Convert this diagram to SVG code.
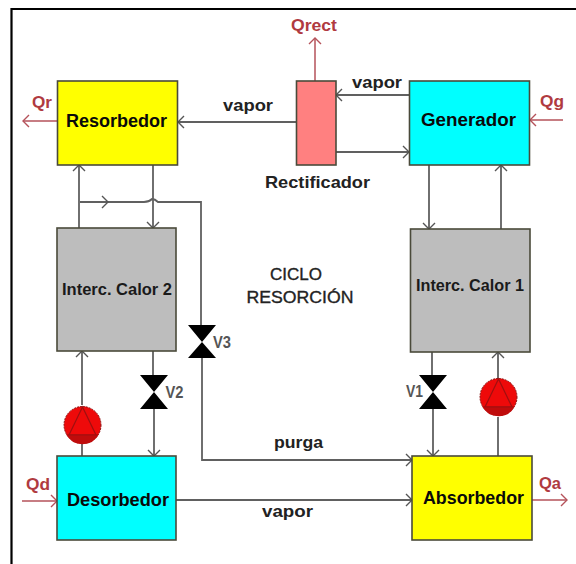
<svg xmlns="http://www.w3.org/2000/svg" width="576" height="564" viewBox="0 0 576 564">
<defs>
<marker id="a" markerUnits="userSpaceOnUse" markerWidth="12" markerHeight="14" refX="10" refY="7" orient="auto"><path d="M4 1L10 7L4 13" fill="none" stroke="#555" stroke-width="1.4"/></marker>
<marker id="r" markerUnits="userSpaceOnUse" markerWidth="12" markerHeight="14" refX="10" refY="7" orient="auto"><path d="M4 1L10 7L4 13" fill="none" stroke="#b5525a" stroke-width="1.4"/></marker>
</defs>
<style>
text{font-family:"Liberation Sans",Arial,sans-serif;font-weight:700;text-anchor:middle}
.box{stroke:#4a4a3a;stroke-width:1.6}
.c{fill:none;stroke:#606060;stroke-width:1.8;marker-end:url(#a)}
.n{fill:none;stroke:#606060;stroke-width:1.8}
.h{fill:none;stroke:#b5525a;stroke-width:1.5;marker-end:url(#r)}
.q{fill:#b03a40;font-size:17px}
.l{fill:#222;font-size:16.500px}
.m{fill:#222;font-size:17px;font-weight:400;stroke:#222;stroke-width:.35px}
.t{fill:#0a0a0a;font-size:18px}
.i{fill:#1a1a1a;font-size:16.500px}
.v{fill:#555;font-size:17px}
.valve{fill:#000}
.pump{fill:#ee0a0a;stroke:#8a1010;stroke-width:1;stroke-dasharray:2 1}
.tri{fill:none;stroke:#a01010;stroke-width:1.2}
.band{fill:#c00c0c}
</style>
<path d="M11.500 564V9H576" fill="none" stroke="#000" stroke-width="2.200"/>
<g id="connectors">
<path class="c" d="M296 122H178"/>
<path class="c" d="M409 95H336"/>
<path class="c" d="M336 152H409"/>
<path class="c" d="M429 165V229"/>
<path class="c" d="M501 229V165"/>
<path class="c" d="M79 228V165"/>
<path class="c" d="M153 165V228"/>
<path class="n" d="M80 202H144Q149 202 152 199Q155 199 158 202Q161 202 165 202H201V325"/>
<path class="c" d="M80 202H108"/>
<path class="n" d="M202 358V460H300"/>
<path class="c" d="M300 460H412"/>
<path class="c" d="M176 500H412"/>
<path class="c" d="M82 405V351"/>
<path class="n" d="M82 456V444"/>
<path class="n" d="M153 351V375"/>
<path class="c" d="M154 408V456"/>
<path class="n" d="M432 352V376"/>
<path class="c" d="M433 408V456"/>
<path class="c" d="M498 385V352"/>
<path class="n" d="M498 456V417"/>
<path class="h" d="M57 121H23"/>
<path class="h" d="M563 120H530"/>
<path class="h" d="M315 81V38"/>
<path class="h" d="M22 501H57"/>
<path class="h" d="M532 500H567"/>
</g>
<g id="resorbedor"><rect class="box" x="57.500" y="81" width="120" height="84" fill="#ffff00"/><text class="t" x="116.500" y="127" textLength="101" lengthAdjust="spacingAndGlyphs">Resorbedor</text></g>
<g id="generador"><rect class="box" x="409.500" y="81" width="120" height="84" fill="#00ffff"/><text class="t" x="468.500" y="126" textLength="95" lengthAdjust="spacingAndGlyphs">Generador</text></g>
<g id="rectificador"><rect class="box" x="296.500" y="81" width="39.500" height="84" fill="#ff8080"/><text class="l" x="317.500" y="188" textLength="105" lengthAdjust="spacingAndGlyphs">Rectificador</text></g>
<g id="interc2"><rect class="box" x="57" y="228" width="119" height="123" fill="#bdbdbd"/><text class="i" x="117" y="295" textLength="110" lengthAdjust="spacingAndGlyphs">Interc. Calor 2</text></g>
<g id="interc1"><rect class="box" x="410.500" y="229" width="119.500" height="123" fill="#bdbdbd"/><text class="i" x="470" y="291" textLength="108" lengthAdjust="spacingAndGlyphs">Interc. Calor 1</text></g>
<g id="desorbedor"><rect class="box" x="57" y="456" width="119" height="84" fill="#00ffff"/><text class="t" x="118" y="506" textLength="102" lengthAdjust="spacingAndGlyphs">Desorbedor</text></g>
<g id="absorbedor"><rect class="box" x="412" y="456" width="120" height="84" fill="#ffff00"/><text class="t" x="473.500" y="504" textLength="101" lengthAdjust="spacingAndGlyphs">Absorbedor</text></g>
<g id="valve-v3"><path class="valve" d="M188 325H216L202 342L216 358H188L202 342Z"/><text class="v" x="222" y="348" textLength="18" lengthAdjust="spacingAndGlyphs">V3</text></g>
<g id="valve-v2"><path class="valve" d="M140 375H168L154 392L168 409H140L154 392Z"/><text class="v" x="174.500" y="398" textLength="18" lengthAdjust="spacingAndGlyphs">V2</text></g>
<g id="valve-v1"><path class="valve" d="M419 375H447L433 392L447 409H419L433 392Z"/><text class="v" x="414.500" y="397" textLength="17" lengthAdjust="spacingAndGlyphs">V1</text></g>
<g id="pump-d"><circle class="pump" cx="82.500" cy="425" r="18.500"/><path class="band" d="M66 434H99A18.500 18.500 0 0 1 66 434Z"/><path class="tri" d="M82.500 407L69 435H96Z"/></g>
<g id="pump-a"><circle class="pump" cx="498.500" cy="397" r="18.500"/><path class="band" d="M482 406H515A18.500 18.500 0 0 1 482 406Z"/><path class="tri" d="M498.500 379L485 407H512Z"/></g>
<g id="labels">
<text class="q" x="42" y="108" textLength="20" lengthAdjust="spacingAndGlyphs">Qr</text>
<text class="q" x="314" y="31" textLength="46" lengthAdjust="spacingAndGlyphs">Qrect</text>
<text class="q" x="552" y="107" textLength="24" lengthAdjust="spacingAndGlyphs">Qg</text>
<text class="q" x="38" y="490" textLength="24" lengthAdjust="spacingAndGlyphs">Qd</text>
<text class="q" x="550" y="489" textLength="22" lengthAdjust="spacingAndGlyphs">Qa</text>
<text class="l" x="248" y="111" textLength="50" lengthAdjust="spacingAndGlyphs">vapor</text>
<text class="l" x="377" y="88" textLength="50" lengthAdjust="spacingAndGlyphs">vapor</text>
<text class="l" x="298.500" y="448" textLength="49" lengthAdjust="spacingAndGlyphs">purga</text>
<text class="l" x="287.500" y="517" textLength="51" lengthAdjust="spacingAndGlyphs">vapor</text>
<text class="m" x="296" y="280" textLength="52" lengthAdjust="spacingAndGlyphs">CICLO</text>
<text class="m" x="300" y="303" textLength="107" lengthAdjust="spacingAndGlyphs">RESORCIÓN</text>
</g>
</svg>
